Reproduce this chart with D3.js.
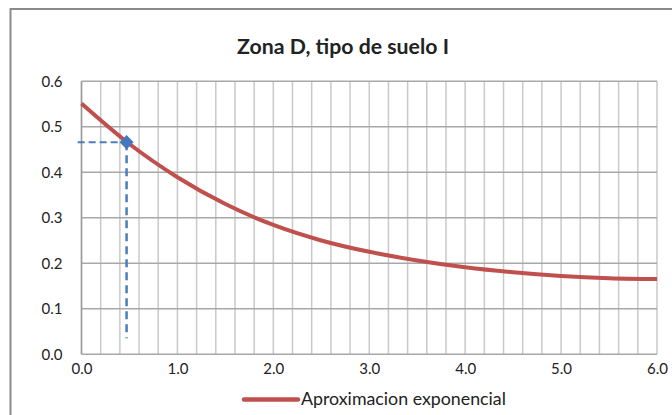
<!DOCTYPE html>
<html>
<head>
<meta charset="utf-8">
<script src="https://cdn.jsdelivr.net/npm/d3@7"></script>
<style>
  html, body { margin: 0; padding: 0; background: #fff; }
  svg { display: block; }
  text { font-family: Lato, "Open Sans", sans-serif; fill: #222; }
</style>
</head>
<body>
<svg id="chart" width="672" height="415"></svg>
<script>
// Spectral ordinate curve (exponential approximation), zone D, soil type I
const periods = [0.0, 0.5, 1.0, 1.5, 2.0, 2.5, 3.0, 3.5, 4.0, 4.5, 5.0, 5.5, 6.0];
const ordinates = [0.551, 0.462, 0.389, 0.330, 0.284, 0.250, 0.225, 0.206, 0.191, 0.180, 0.172, 0.167, 0.165];

// Reference point read on the curve, with its guide lines
const refPoint = [0.47, 0.466];
const guideStart = [-0.04, 0.035];

const xTicks = [0, 1, 2, 3, 4, 5, 6];
const xMinorGrid = d3.range(0, 6.0001, 0.2);
const yTicks = [0, 0.1, 0.2, 0.3, 0.4, 0.5, 0.6];

const titleText = "Zona D, tipo de suelo I";
const legendText = "Aproximacion exponencial";

const svg = d3.select("#chart");

const x = d3.scaleLinear().domain([0, 6]).range([81.5, 657]);
const y = d3.scaleLinear().domain([0, 0.6]).range([354.2, 81.2]);

// outer chart frame
svg.append("rect")
  .attr("x", 10.5).attr("y", 9)
  .attr("width", 700).attr("height", 450)
  .attr("fill", "none").attr("stroke", "#8a8a8a").attr("stroke-width", 2);

// title, sized to its span
const title = svg.append("text")
  .attr("x", 343).attr("y", 54)
  .attr("text-anchor", "middle")
  .attr("font-weight", 700)
  .attr("font-size", 18)
  .text(titleText);
{
  const w = title.node().getComputedTextLength();
  title.attr("font-size", 18 * 212 / w);
}

// vertical grid every 0.2
svg.append("g").selectAll("line")
  .data(xMinorGrid)
  .join("line")
  .attr("x1", d => x(d)).attr("x2", d => x(d))
  .attr("y1", y(0.6)).attr("y2", y(0))
  .attr("stroke", "#c9c9c9").attr("stroke-width", 1.5);

// horizontal grid every 0.1
svg.append("g").selectAll("line")
  .data(yTicks)
  .join("line")
  .attr("x1", x(0)).attr("x2", x(6))
  .attr("y1", d => y(d)).attr("y2", d => y(d))
  .attr("stroke", "#a8a8a8").attr("stroke-width", 1.5);

// plot area left edge
svg.append("line")
  .attr("x1", x(0)).attr("x2", x(0)).attr("y1", y(0.6)).attr("y2", y(0))
  .attr("stroke", "#9a9a9a").attr("stroke-width", 1.5);

// y axis labels
const yAxis = d3.axisLeft(y).tickValues(yTicks).tickFormat(d3.format(".1f")).tickSize(0).tickPadding(19);
const gy = svg.append("g").attr("transform", `translate(${x(0)},0)`).call(yAxis);
gy.select(".domain").remove();
gy.selectAll("text").attr("font-size", 15).attr("fill", "#222").attr("font-family", "Lato, sans-serif");

// x axis labels
const xAxis = d3.axisBottom(x).tickValues(xTicks).tickFormat(d3.format(".1f")).tickSize(0).tickPadding(9);
const gx = svg.append("g").attr("transform", `translate(0,${y(0)})`).call(xAxis);
gx.select(".domain").remove();
gx.selectAll("text").attr("font-size", 15).attr("fill", "#222").attr("font-family", "Lato, sans-serif");

// curve
const line = d3.line()
  .x((d, i) => x(periods[i]))
  .y(d => y(d))
  .curve(d3.curveMonotoneX);

svg.append("path")
  .datum(ordinates)
  .attr("d", line)
  .attr("fill", "none")
  .attr("stroke", "#c0504d")
  .attr("stroke-width", 4)
  .attr("stroke-linecap", "butt");

// dashed guides to the reference point
svg.append("line")
  .attr("x1", x(guideStart[0])).attr("x2", x(refPoint[0]))
  .attr("y1", y(refPoint[1])).attr("y2", y(refPoint[1]))
  .attr("stroke", "#4a7ebb").attr("stroke-width", 2).attr("stroke-dasharray", "7,4");
svg.append("line")
  .attr("x1", x(refPoint[0])).attr("x2", x(refPoint[0]))
  .attr("y1", y(refPoint[1])).attr("y2", y(guideStart[1]))
  .attr("stroke", "#4a7ebb").attr("stroke-width", 2.5).attr("stroke-dasharray", "8,5");

// reference marker (diamond)
svg.append("path")
  .attr("d", d3.symbol(d3.symbolSquare, 100)())
  .attr("transform", `translate(${x(refPoint[0])},${y(refPoint[1])}) rotate(45)`)
  .attr("fill", "#4677be");

// legend
svg.append("line")
  .attr("x1", 244).attr("x2", 298)
  .attr("y1", 399.5).attr("y2", 399.5)
  .attr("stroke", "#c0504d").attr("stroke-width", 4.5).attr("stroke-linecap", "round");
const leg = svg.append("text")
  .attr("x", 301).attr("y", 404.5)
  .attr("font-size", 14)
  .text(legendText);
{
  const w = leg.node().getComputedTextLength();
  leg.attr("font-size", 14 * 205 / w);
}
</script>
</body>
</html>
